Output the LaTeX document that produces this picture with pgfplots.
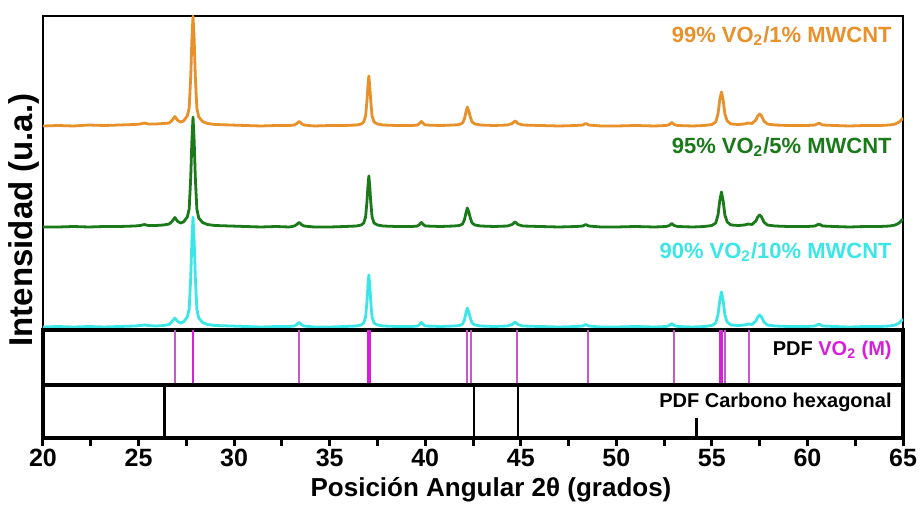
\documentclass[border=0pt]{standalone}
\usepackage{fontspec}
\setmainfont{Liberation Sans}
\usepackage{pgfplots}
\usepackage{pgfplotstable}
\pgfplotsset{compat=1.18}
\definecolor{corange}{HTML}{E8902A}
\definecolor{cgreen}{HTML}{1A7A1A}
\definecolor{ccyan}{HTML}{3DE6E6}
\definecolor{cmag}{HTML}{D61FD6}
\definecolor{cmagthin}{HTML}{CC55CC}

\pgfplotstableread{
x o g c
20.0 204 103 3
20.8 204.5 103 3.5
21.6 204 103.5 3
22.4 205 103 3.5
23.2 204.5 103.5 3
24.0 205 103.5 3.5
24.8 205.5 104 4
25.1 206 104.5 4.5
25.3 207 105.5 5
25.5 206 104.5 4.5
25.9 206 104.5 4
26.3 206.5 105 4.5
26.6 207 106 5.5
26.75 209.5 108.5 8.5
26.9 213.5 112.5 12
27.05 209.5 108.5 8.5
27.2 208 107 7
27.35 209 108 8
27.55 214 113 13
27.65 222 121 21
27.73 253.5 152.5 52.5
27.79 290 189 89
27.85 314 213 113
27.91 290 189 89
27.97 253.5 152.5 52.5
28.05 222 121 21
28.15 213 112 12
28.35 208.5 107.5 7.5
28.6 206.5 105.5 5.5
29.0 205.5 104.5 4.5
29.8 205 104 4
30.6 204.5 103.5 3.5
31.4 204 103 3
32.2 204.5 103.5 3.5
32.9 204.5 103 3.5
33.15 205 104 4
33.28 206.5 105.5 5.5
33.4 208.5 107.5 7.5
33.52 206.5 105.5 5.5
33.65 205 104 4
34.2 204 103 3
35.0 204.5 103 3
35.8 204.5 103.5 3.5
36.4 205 104 4
36.65 206 105 5
36.78 208 107 7
36.88 214 113 13
36.95 229 128 28
37.0 243 143 44
37.05 254 154 55
37.1 243 143 44
37.15 229 128 28
37.22 214 113 13
37.32 208 107 7
37.5 206 105 5
37.8 205 104 4
38.5 204.5 103.5 3.5
39.3 204.5 103.5 3.5
39.6 205 104 4
39.7 206.5 105.5 5.5
39.8 208.5 107.5 7.5
39.9 206.5 105.5 5.5
40.0 205 104 4
40.8 204.5 103.5 3.5
41.5 205 104 4
41.8 205.5 104.5 4.5
41.95 207 106 6
42.05 211 110 10
42.12 217 116 16
42.2 223 122 22
42.28 219 118 18
42.36 213 112 12
42.45 208 107 7
42.6 206 105 5
42.9 205 104 4
43.6 204.5 103.5 3.5
44.3 205 104 4
44.55 206.5 105.5 5.5
44.7 209 108 8
44.85 206.5 105.5 5.5
45.1 205 104 4
46.0 204.5 103.5 3.5
47.0 204 103 3
47.9 204.5 103.5 3.5
48.25 205 104 4
48.4 206.5 105.5 5.5
48.55 205 104 4
49.2 204 103 3
50.0 204 103 3
51.0 204.5 103.5 3.5
52.0 204 103 3
52.6 204.5 103.5 3.5
52.78 205.5 104.5 4.5
52.9 207.5 106.5 6.5
53.02 205.5 104.5 4.5
53.2 204.5 103.5 3.5
54.0 204 103 3
54.6 204.5 103.5 3.5
55.0 205.5 104.5 4.5
55.2 208 107 7
55.32 216 115 15
55.41 230 129 29
55.5 238 138 38
55.59 230 129 29
55.68 216 115 15
55.8 209 108 8
56.0 206 105 5
56.4 205.5 104.5 4.5
56.7 206 105 5
56.9 207 106 6
57.1 206.5 105.5 5.5
57.3 210 109 9
57.4 214 113 13
57.5 216 115 15
57.6 214 113 13
57.72 209 108 8
57.9 206 105 5
58.3 205 104 4
59.0 204.5 103.5 3.5
60.0 204.5 103.5 3.5
60.4 205 104 4
60.6 207 106 6
60.8 205 104 4
61.4 204.5 103.5 3.5
62.2 204 103 3
63.0 204.5 103.5 3.5
63.8 204.5 103.5 3.5
64.3 205 104 4
64.6 206 105 5
64.8 208 107 7
64.95 211 110 10
65.0 212 111 11
}\xrd

\begin{document}
\begin{tikzpicture}
\useasboundingbox (0,0) rectangle (460pt,252pt);
\pgfplotsset{panel/.style={scale only axis, width=430pt, xmin=20, xmax=65,
  axis line style={line width=1.6pt}, xtick=\empty, ytick=\empty, anchor=south west}}
\begin{axis}[panel, at={(21.5pt,87pt)}, height=157pt, ymin=0, ymax=314,
  axis line style={line width=1.3pt}]
\addplot[corange, line width=1.4pt, line join=round] table[x=x,y=o]{\xrd};
\addplot[cgreen, line width=1.4pt, line join=round] table[x=x,y=g]{\xrd};
\addplot[ccyan, line width=1.4pt, line join=round] table[x=x,y=c]{\xrd};
\end{axis}
\begin{axis}[panel, at={(21.5pt,59.5pt)}, height=27.5pt, ymin=0, ymax=1]
\addplot[ycomb, cmagthin, line width=1pt] coordinates {(26.9,1) (33.4,1) (42.2,1) (42.38,1) (44.8,1) (48.5,1) (53.0,1) (55.67,1) (56.95,1)};
\addplot[ycomb, cmag, line width=1.2pt] coordinates {(27.85,1)};
\addplot[ycomb, cmag, line width=2pt] coordinates {(37.05,1) (55.5,1)};
\end{axis}
\begin{axis}[panel, at={(21.5pt,33pt)}, height=26.5pt, ymin=0, ymax=1,
  xtick={20,25,...,65}, minor x tick num=1, tick align=outside, xtick pos=left,
  major tick length=4pt, minor tick length=4pt,
  major tick style={line width=1.5pt, black}, minor tick style={line width=1.5pt, black},
  xticklabel style={font=\bfseries\fontsize{12.5}{14}\selectfont, yshift=2pt},
  /pgf/number format/assume math mode=true]
\addplot[ycomb, black, line width=1.2pt] coordinates {(26.35,1) (42.55,1) (44.85,1) (54.2,0.38)};
\end{axis}
\node[anchor=east, inner sep=0pt, text=corange, font=\bfseries\fontsize{11}{13}\selectfont] at (446pt,234pt) {99\% VO\textsubscript{2}/1\% MWCNT};
\node[anchor=east, inner sep=0pt, text=cgreen, font=\bfseries\fontsize{11}{13}\selectfont] at (446pt,178.5pt) {95\% VO\textsubscript{2}/5\% MWCNT};
\node[anchor=east, inner sep=0pt, text=ccyan, font=\bfseries\fontsize{11}{13}\selectfont] at (446pt,126pt) {90\% VO\textsubscript{2}/10\% MWCNT};
\node[anchor=east, inner sep=0pt, font=\bfseries\fontsize{10}{12}\selectfont] at (446pt,77pt) {PDF \textcolor{cmag}{VO\textsubscript{2} (M)}};
\node[anchor=east, inner sep=0pt, font=\bfseries\fontsize{10}{12}\selectfont] at (446pt,51pt) {PDF Carbono hexagonal};
\node[rotate=90, inner sep=0pt, font=\bfseries\fontsize{16.5}{19}\selectfont] at (12pt,142pt) {Intensidad (u.a.)};
\node[inner sep=0pt, font=\bfseries\fontsize{13}{15}\selectfont] at (245.5pt,7pt) {Posición Angular 2θ (grados)};
\end{tikzpicture}
\end{document}
